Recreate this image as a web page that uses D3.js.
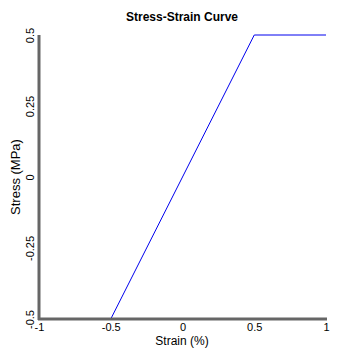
<!DOCTYPE html>
<html>
<head>
<meta charset="utf-8">
<script src="https://cdn.jsdelivr.net/npm/d3@7"></script>
<style>
  html, body { margin: 0; padding: 0; background: #fff; }
  svg { display: block; font-family: "Liberation Sans", Arial, sans-serif; }
</style>
</head>
<body>
<svg id="chart" width="338" height="353"></svg>
<script>
// Stress-strain curve: linear elastic region followed by a plateau
const strain = [-0.5, 0.5, 1];
const stress = [-0.5, 0.5, 0.5];
const xTicks = [-1, -0.5, 0, 0.5, 1];
const yTicks = [-0.5, -0.25, 0, 0.25, 0.5];
const xTickLabels = ["-1", "-0.5", "0", "0.5", "1"];
const yTickLabels = ["-0.5", "-0.25", "0", "0.25", "0.5"];

const svg = d3.select("#chart");
const plot = { left: 39, right: 326, top: 35, bottom: 319 };

const x = d3.scaleLinear().domain([-1, 1]).range([plot.left, plot.right]);
const y = d3.scaleLinear().domain([-0.5, 0.5]).range([plot.bottom, plot.top]);

// Title
svg.append("text")
  .attr("x", 182).attr("y", 21)
  .attr("text-anchor", "middle")
  .attr("font-size", 12).attr("font-weight", "bold")
  .text("Stress-Strain Curve");

// Curve
const line = d3.line().x((d, i) => x(strain[i])).y((d, i) => y(stress[i]));
svg.append("path")
  .datum(strain)
  .attr("d", line)
  .attr("fill", "none")
  .attr("stroke", "#0000ee")
  .attr("stroke-width", 1);

// Axes (no tick marks, thick gray domain lines)
const xAxis = d3.axisBottom(x).tickValues(xTicks).tickSize(0)
  .tickFormat((d, i) => xTickLabels[i]);
const gx = svg.append("g").attr("transform", `translate(0,${plot.bottom})`).call(xAxis);
gx.select(".domain").attr("stroke", "#666").attr("stroke-width", 3)
  .attr("d", `M${plot.left - 1},0H${plot.right + 1}`);
gx.selectAll("text").attr("font-size", 11).attr("fill", "#000")
  .attr("font-family", "Liberation Sans, Arial, sans-serif").attr("dy", "0.95em").attr("y", 2);

const yAxis = d3.axisLeft(y).tickValues(yTicks).tickSize(0)
  .tickFormat((d, i) => yTickLabels[i]);
const gy = svg.append("g").attr("transform", `translate(${plot.left},0)`).call(yAxis);
gy.select(".domain").attr("stroke", "#666").attr("stroke-width", 3)
  .attr("d", `M0,${plot.top}V${plot.bottom + 1}`);
gy.selectAll(".tick text")
  .attr("font-size", 11).attr("fill", "#000")
  .attr("font-family", "Liberation Sans, Arial, sans-serif")
  .attr("x", null).attr("dy", null)
  .attr("text-anchor", "middle")
  .attr("transform", "translate(-5,0) rotate(-90)")
  .attr("y", 0);

// Axis titles
svg.append("text")
  .attr("x", 182).attr("y", 345)
  .attr("text-anchor", "middle")
  .attr("font-size", 12)
  .text("Strain (%)");

svg.append("text")
  .attr("transform", `translate(20,177) rotate(-90)`)
  .attr("text-anchor", "middle")
  .attr("font-size", 13)
  .text("Stress (MPa)");
</script>
</body>
</html>
